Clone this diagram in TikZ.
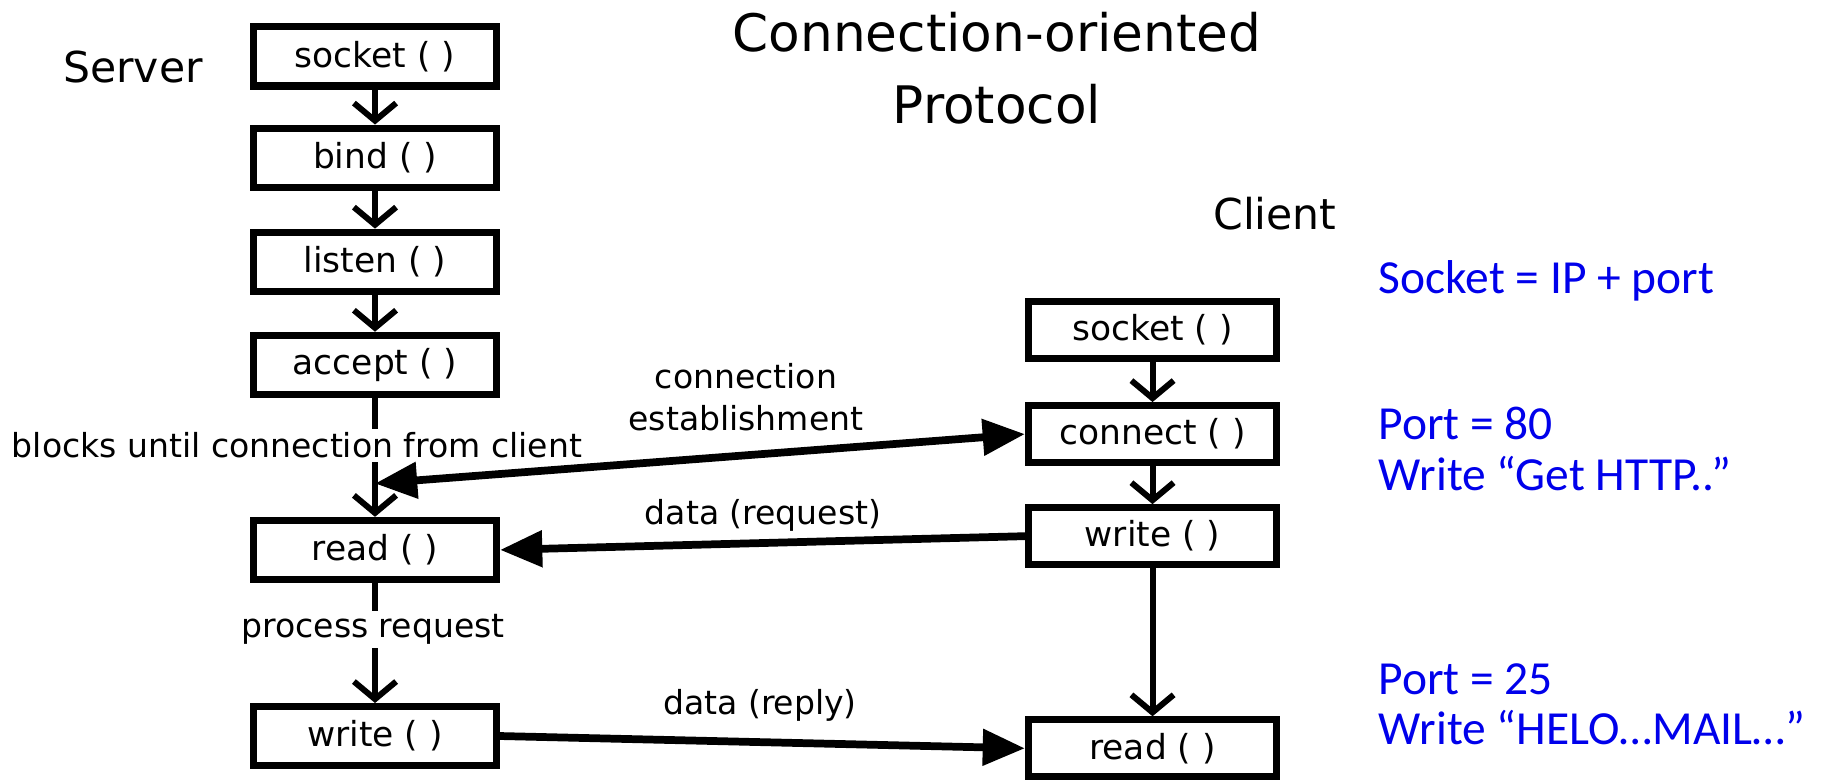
\documentclass[tikz,border=0pt]{standalone}
\usepackage{fontspec}
\setmainfont{DejaVu Sans}
\newfontfamily\notefont{Carlito}
\usetikzlibrary{positioning,arrows.meta,calc}
\definecolor{noteblue}{RGB}{0,0,235}

\begin{document}
\begin{tikzpicture}[x=0.01cm,y=-0.01cm,
    call/.style={rectangle,draw,line width=2pt,minimum width=2.43cm,
      minimum height=0.59cm,inner sep=1pt,font=\fontsize{9.8}{12}\selectfont},
    ccall/.style={call,minimum width=2.48cm,minimum height=0.57cm},
    flow/.style={line width=1.7pt,-{Straight Barb[length=5pt,width=12pt]}},
    msg/.style={line width=2.2pt,-{Triangle[length=12pt,width=10pt]}},
    lbl/.style={font=\fontsize{9.4}{12}\selectfont,inner sep=1pt}]
  \tikzstyle{side}=[font=\fontsize{12.1}{14}\selectfont,anchor=base]
  \tikzstyle{note}=[font=\notefont\fontsize{13.5}{14.5}\selectfont,
    text=noteblue,anchor=base west,align=left,inner sep=0pt]
  \useasboundingbox (0,0) rectangle (1824,783);
  \fill[white] (0,0) rectangle (1824,783);
  \node[font=\fontsize{14.7}{20.5}\selectfont,align=center] (title)
    at (997,68) {Connection-oriented\\Protocol};
  \node[side] (srv) at (133,83) {Server};
  \node[side] (cli) at (1275,230) {Client};
  % server
  \node[call] (ssock) at (375,56.5) {socket ( )};
  \node[call,below=0.35cm of ssock] (sbind) {bind ( )};
  \node[call,below=0.38cm of sbind] (slist) {listen ( )};
  \node[call,below=0.37cm of slist] (sacc) {accept ( )};
  \node[call,below=1.19cm of sacc] (sread) {read ( )};
  \node[call,below=1.2cm of sread] (swrite) {write ( )};
  % client
  \node[ccall] (csock) at (1152.5,330) {socket ( )};
  \node[ccall,below=0.4cm of csock] (cconn) {connect ( )};
  \node[ccall,below=0.38cm of cconn] (cwrite) {write ( )};
  \node[ccall,below=1.48cm of cwrite] (cread) {read ( )};
  \draw[flow] (ssock) -- (sbind);
  \draw[flow] (sbind) -- (slist);
  \draw[flow] (slist) -- (sacc);
  \draw[flow] (sacc) -- (sread);
  \draw[flow] (sread) -- (swrite);
  \draw[flow] (csock) -- (cconn);
  \draw[flow] (cconn) -- (cwrite);
  \draw[flow] (cwrite) -- (cread);
  \node[lbl,fill=white,anchor=base] (blocks) at (297,458)
    {blocks until connection from client};
  \node[lbl,fill=white,anchor=base] (proc) at (373,638) {process request};
  \node[lbl,align=center] (estab) at (746,397) {connection\\establishment};
  \node[lbl,anchor=base] (dreq) at (763,525) {data (request)};
  \node[lbl,anchor=base] (drep) at (760,715) {data (reply)};
  % messages
  \coordinate (meet) at ($(sacc.south)!0.72!(sread.north)$);
  \draw[msg,{Triangle[length=12pt,width=10pt]}-{Triangle[length=12pt,width=10pt]}]
    (meet) -- (cconn.west);
  \draw[msg] (cwrite.west) -- (sread.east);
  \draw[msg] (swrite.east) -- (cread.west);
  % notes
  \node[note] (sockeq) at (1378,294) {Socket = IP + port};
  \node[note] (port80) at (1378,491) {Port = 80\\Write “Get HTTP..”};
  \node[note] (port25) at (1378,745) {Port = 25\\Write “HELO…MAIL…”};
\end{tikzpicture}
\end{document}
